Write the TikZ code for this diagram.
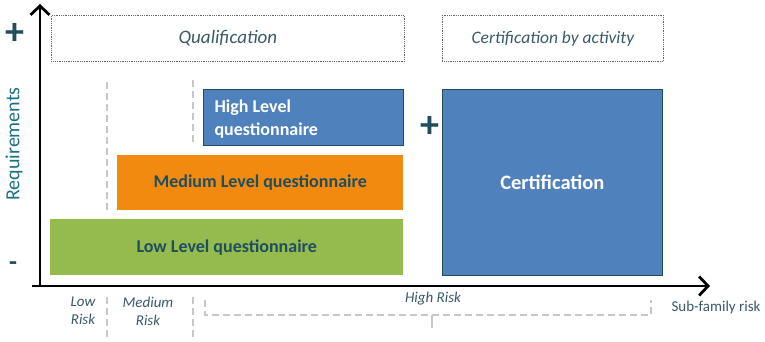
\documentclass[tikz,border=0pt]{standalone}
\usepackage{fontspec}
\setmainfont{Carlito}
\usepackage{tikz}
\usetikzlibrary{calc, positioning, arrows.meta}
\definecolor{qblue}{HTML}{4F81BD}
\definecolor{qorange}{HTML}{F28A0F}
\definecolor{qgreen}{HTML}{95BA4E}
\definecolor{qteal}{HTML}{1F4E5F}
\definecolor{qslate}{HTML}{3A5A6A}
\definecolor{qgray}{HTML}{C4C8CC}
\tikzset{
    frame/.style={rectangle, draw=black!60, densely dotted, thick, anchor=north west},
    level/.style={rectangle, anchor=north west, font=\fontsize{18}{21}\selectfont\bfseries, align=center, inner sep=0pt},
    axis/.style={-{Straight Barb[length=9pt,width=19pt,line width=2.8pt]}, line width=2.8pt, black},
    riskline/.style={qgray, line width=2pt, dash pattern=on 7pt off 4pt},
    risk/.style={font=\fontsize{15}{18}\selectfont\itshape, text=qslate, align=center},
    sign/.style={font=\fontsize{38}{38}\selectfont\bfseries, text=qteal}
}
\begin{document}
\begin{tikzpicture}[x=1pt, y=-1pt]
    \useasboundingbox (0,0) rectangle (765,341);

    % Risk separators
    \draw[riskline] (107,82) -- (107,210);
    \draw[riskline] (193,80) -- (193,143);
    \draw[riskline] (107,297) -- (107,341);
    \draw[riskline] (193,297) -- (193,341);

    % Frames on top
    \node[frame, minimum width=353pt, minimum height=46pt] (qual) at (51,15) {};
    \node[text=qslate, font=\fontsize{19}{22}\selectfont\itshape] at (qual.center) {Qualification};
    \node[frame, minimum width=221pt, minimum height=46pt] (certact) at (442,15) {};
    \node[text=qslate, font=\fontsize{17.5}{21}\selectfont\itshape] at (certact.center) {Certification by activity};

    % Questionnaire levels
    \node[level, fill=qblue, draw=qteal, thick, minimum width=200pt, minimum height=56pt] (high) at (203,89) {};
    \node[text=white, font=\fontsize{18}{23}\selectfont\bfseries, align=left, anchor=west] at ([xshift=8pt,yshift=-2pt]high.west) {High Level\\questionnaire};
    \node[level, fill=qorange, minimum width=286pt, minimum height=55pt, text=qteal] (medium) at (117,155) {Medium Level questionnaire};
    \node[level, fill=qgreen, minimum width=353pt, minimum height=56pt, text=qteal] (low) at (50,219) {Low Level questionnaire};
    \node[level, fill=qblue, draw=qteal, thick, minimum width=220pt, minimum height=186pt, text=white, font=\fontsize{20.5}{24}\selectfont\bfseries] (cert) at (442,89) {Certification};

    % Signs
    \node[sign] (plustop) at (15,34) {+};
    \node[sign] (plusmid) at (430,127) {+};
    \node[sign, font=\fontsize{26}{26}\selectfont\bfseries] (minus) at (13,266) {-};
    \node[rotate=90, text=qteal!80!cyan, font=\fontsize{20}{22}\selectfont] (req) at (14,144) {Requirements};

    % Axes
    \coordinate (origin) at (40,286);
    \coordinate (ytip) at (40,4);
    \coordinate (xstart) at (32,286);
    \coordinate (xtip) at (710,286);
    \draw[axis] (origin) -- (ytip);
    \draw[axis] (xstart) -- (xtip);
    \node[anchor=west, text=qslate, font=\fontsize{15}{18}\selectfont] (subfam) at (668,307) {Sub-family risk};

    % Risk classes
    \node[risk] (lowrisk) at (83,311) {Low\\Risk};
    \node[risk] (medrisk) at (148,311) {Medium\\Risk};
    \node[risk] (highrisk) at (433,299) {High Risk};
    \coordinate (bl) at (205,300);
    \coordinate (br) at (651,300);
    \coordinate (bm) at (432,315);
    \draw[riskline] (bl) |- (bm) -| (br);
    \draw[qgray, line width=2pt] (bm) -- ++(0,13);
\end{tikzpicture}
\end{document}
